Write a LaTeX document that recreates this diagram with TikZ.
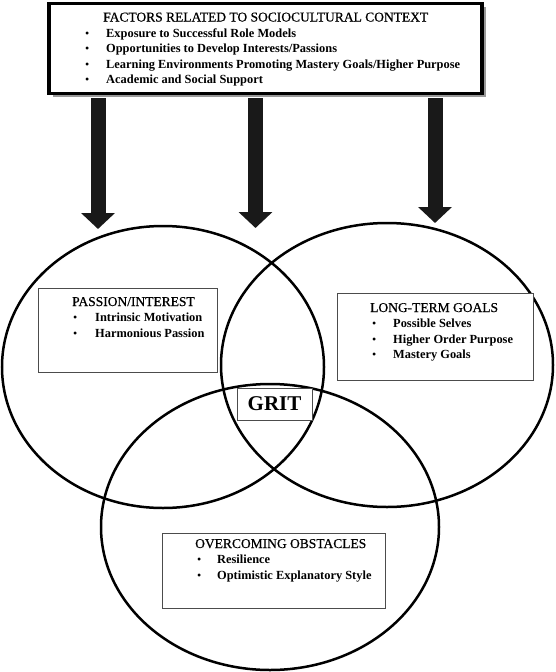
\documentclass[tikz,border=0pt]{standalone}
\usepackage{fontspec}
\setmainfont{Liberation Serif}
\newfontfamily\headfont[FakeBold=0.6]{Liberation Serif}
\usetikzlibrary{arrows.meta,shadows,calc}

\tikzset{
    ring/.style={line width=2.5pt},
    infobox/.style={draw=black!70, line width=0.8pt, fill=white, inner sep=0pt},
    headtext/.style={anchor=base west, inner sep=0pt, font=\headfont\fontsize{13.5}{15}\selectfont},
    itemtext/.style={anchor=base west, inner sep=0pt, font=\bfseries\fontsize{12.4}{14}\selectfont},
    dot/.style={anchor=base west, inner sep=0pt, font=\fontsize{12}{14}\selectfont},
    bigarrow/.style={line width=15pt, black!90, -{Triangle[width=33pt,length=16pt]}}
}

\begin{document}
\begin{tikzpicture}[x=1pt,y=-1pt]
    \useasboundingbox (0,0) rectangle (555,672);
    % Define dimensions
    \def\linegap{15.5}   % Distance between two text lines

    % Three circles
    \draw[ring] (163,367) ellipse [x radius=161pt, y radius=141pt];
    \draw[ring] (387,365) ellipse [x radius=166pt, y radius=142pt];
    \draw[ring] (270,527) ellipse [x radius=169pt, y radius=143pt];

    % Sociocultural context box
    \node[draw, line width=3.5pt, fill=white, inner sep=0pt,
        minimum width=433pt, minimum height=90pt,
        drop shadow={shadow xshift=3.5pt, shadow yshift=-3.5pt, fill=black!40, opacity=1}]
        (context) at (265.5,48.5) {};
    \node[headtext] (contextHead) at (103,21.5) {FACTORS RELATED TO SOCIOCULTURAL CONTEXT};
    \foreach \txt [count=\i] in {Exposure to Successful Role Models,
        Opportunities to Develop Interests/Passions,
        Learning Environments Promoting Mastery Goals/Higher Purpose,
        Academic and Social Support} {
        \node[dot] (contextDot\i) at (85,{21.5+\i*\linegap}) {•};
        \node[itemtext] (contextItem\i) at (106,{21.5+\i*\linegap}) {\txt};
    }

    % Arrows down to the circles
    \coordinate (passionTip) at (98,229);
    \coordinate (obstacleTip) at (255.5,228);
    \coordinate (goalsTip) at (435,223);
    \foreach \tip in {passionTip, obstacleTip, goalsTip}
        \draw[bigarrow] ($(context.south -| \tip)+(0,3)$) -- (\tip);

    % Passion/interest
    \node[infobox, minimum width=179pt, minimum height=84pt] (passion) at (127.5,330) {};
    \node[headtext] (passionHead) at (72,306) {PASSION/INTEREST};
    \foreach \txt [count=\i] in {Intrinsic Motivation, Harmonious Passion} {
        \node[dot] (passionDot\i) at (73,{306+\i*\linegap}) {•};
        \node[itemtext] (passionItem\i) at (95,{306+\i*\linegap}) {\txt};
    }

    % Long-term goals
    \node[infobox, minimum width=196pt, minimum height=87pt] (goals) at (435,336.5) {};
    \node[headtext] (goalsHead) at (370,312) {LONG-TERM GOALS};
    \foreach \txt [count=\i] in {Possible Selves, Higher Order Purpose, Mastery Goals} {
        \node[dot] (goalsDot\i) at (372,{312+\i*\linegap}) {•};
        \node[itemtext] (goalsItem\i) at (393,{312+\i*\linegap}) {\txt};
    }

    % Overcoming obstacles
    \node[infobox, minimum width=223pt, minimum height=75pt] (obstacles) at (273.5,570.5) {};
    \node[headtext] (obstaclesHead) at (195,548) {OVERCOMING OBSTACLES};
    \foreach \txt [count=\i] in {Resilience, Optimistic Explanatory Style} {
        \node[dot] (obstaclesDot\i) at (197,{548+\i*\linegap}) {•};
        \node[itemtext] (obstaclesItem\i) at (217,{548+\i*\linegap}) {\txt};
    }

    % Grit in the middle
    \node[infobox, minimum width=75pt, minimum height=32pt,
        font=\bfseries\fontsize{21}{24}\selectfont] (grit) at (274.5,404) {GRIT};
\end{tikzpicture}
\end{document}
